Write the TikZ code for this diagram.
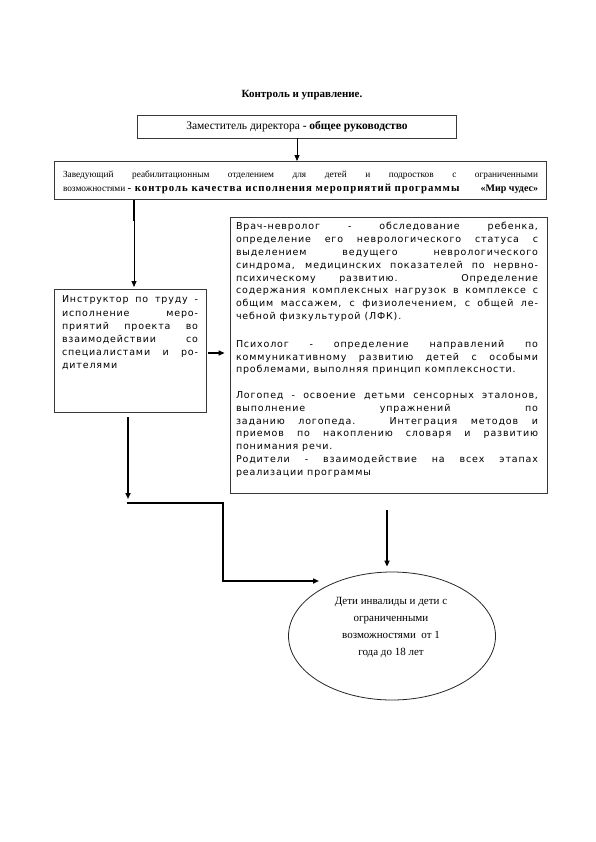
\documentclass[tikz,border=0pt]{standalone}
\usepackage{fontspec}
\setmainfont{Liberation Serif}
\newfontfamily\sansx[LetterSpace=9]{DejaVu Sans}
\newfontfamily\wideserif[LetterSpace=9]{Liberation Serif}
\usetikzlibrary{arrows.meta,shapes.geometric,calc}
\newcommand\JL[2]{\makebox[#1][s]{#2}}
\tikzset{
  box/.style={draw=black!78, line width=0.9pt, inner sep=0pt},
  txt/.style={inner sep=0pt, outer sep=0pt},
  arr/.style={-{Triangle[length=6pt,width=5pt]}, line width=0.8pt},
  arrthick/.style={-{Triangle[length=6pt,width=5pt]}, line width=1.5pt},
}
\begin{document}
\begin{tikzpicture}[x=1pt,y=-1pt]
\fill[white] (0,0) rectangle (595,842);
\useasboundingbox (0,0) rectangle (595,842);

% title
\node[txt, font=\bfseries\fontsize{11}{13}\selectfont] (title) at (302,95) {Контроль и управление.};

% box 1
\node[box, minimum width=319pt, minimum height=23pt, font=\fontsize{11.5}{13}\selectfont] (b1) at (297,126.5)
  {Заместитель директора \textbf{- общее руководство}};

% box 2
\node[box, minimum width=492pt, minimum height=38pt] (b2) at (300,180.5) {};
\node[txt, anchor=north west, align=left, font=\fontsize{9.3}{14}\selectfont] (t2) at (63,170.5)
  {\JL{475pt}{Заведующий реабилитационным отделением для детей и подростков с ограниченными}\\
   \makebox[475pt][l]{возможностями {\wideserif\bfseries\fontsize{10.8}{14}\selectfont - контроль качества исполнения мероприятий программы}\hfill{\bfseries\fontsize{10}{14}\selectfont«Мир чудес»}}};

% box 3
\node[box, minimum width=152pt, minimum height=123pt] (b3) at (130,350.5) {};
\node[txt, anchor=north west, align=left, font=\sansx\fontsize{9.5}{13.1}\selectfont] (t3) at (62,296)
  {\JL{136pt}{Инструктор по труду -}\\
   \JL{136pt}{исполнение меро-}\\
   \JL{136pt}{приятий проекта во}\\
   \JL{136pt}{взаимодействии со}\\
   \JL{136pt}{специалистами и ро-}\\
   дителями};

% box 4
\node[box, minimum width=317pt, minimum height=276pt] (b4) at (388.5,355) {};
\node[txt, anchor=north west, align=left, font=\sansx\fontsize{9.5}{12.8}\selectfont] (t4) at (236,222.5)
  {\JL{302pt}{Врач-невролог - обследование ребенка,}\\
   \JL{302pt}{определение его неврологического статуса с}\\
   \JL{302pt}{выделением ведущего неврологического}\\
   \JL{302pt}{синдрома, медицинских показателей по нервно-}\\
   \JL{302pt}{психическому развитию. Определение}\\
   \JL{302pt}{содержания комплексных нагрузок в комплексе с}\\
   \JL{302pt}{общим массажем, с физиолечением, с общей ле-}\\
   чебной физкультурой (ЛФК).\\[15pt]
   \JL{302pt}{Психолог - определение направлений по}\\
   \JL{302pt}{коммуникативному развитию детей с особыми}\\
   проблемами, выполняя принцип комплексности.\\[12.8pt]
   \JL{302pt}{Логопед - освоение детьми сенсорных эталонов,}\\
   \JL{302pt}{выполнение упражнений по}\\
   \JL{302pt}{заданию логопеда. Интеграция методов и}\\
   \JL{302pt}{приемов по накоплению словаря и развитию}\\
   понимания речи.\\
   \JL{302pt}{Родители - взаимодействие на всех этапах}\\
   реализации программы};

% ellipse
\node[draw=black!85, line width=0.8pt, ellipse, minimum width=207pt, minimum height=128pt, inner sep=0pt] (el) at (392,636) {};
\node[txt, anchor=north, align=center, font=\fontsize{11}{17}\selectfont] (elt) at (391,597)
  {Дети инвалиды и дети с\\ограниченными\\возможностями\ \ от 1\\года до 18 лет};

% connectors
\draw[arr] (b1.south) -- (b1.south |- b2.north);

\coordinate (k2) at (134,287);
\draw[line width=2pt] (b2.south -| k2) -- ++(0,21);
\draw[arr] (b2.south -| k2) -- (k2);

\draw[arrthick, shorten <=2pt, shorten >=5pt] ([yshift=-2.5pt]b3.east) -- ([yshift=-2.5pt]b3.east -| b4.west);

\coordinate (c1) at (128,499);
\draw[arrthick, shorten <=5pt] (b3.south -| c1) -- (c1);

\coordinate (c2) at (127,503);
\coordinate (k5) at (223,581);
\coordinate (c3) at (319,581);
\draw[arrthick] (c2) -| (k5) -- (c3);

\coordinate (c4) at (387,510);
\draw[arrthick, shorten >=5pt] (c4) -- (c4 |- el.north);
\end{tikzpicture}
\end{document}
